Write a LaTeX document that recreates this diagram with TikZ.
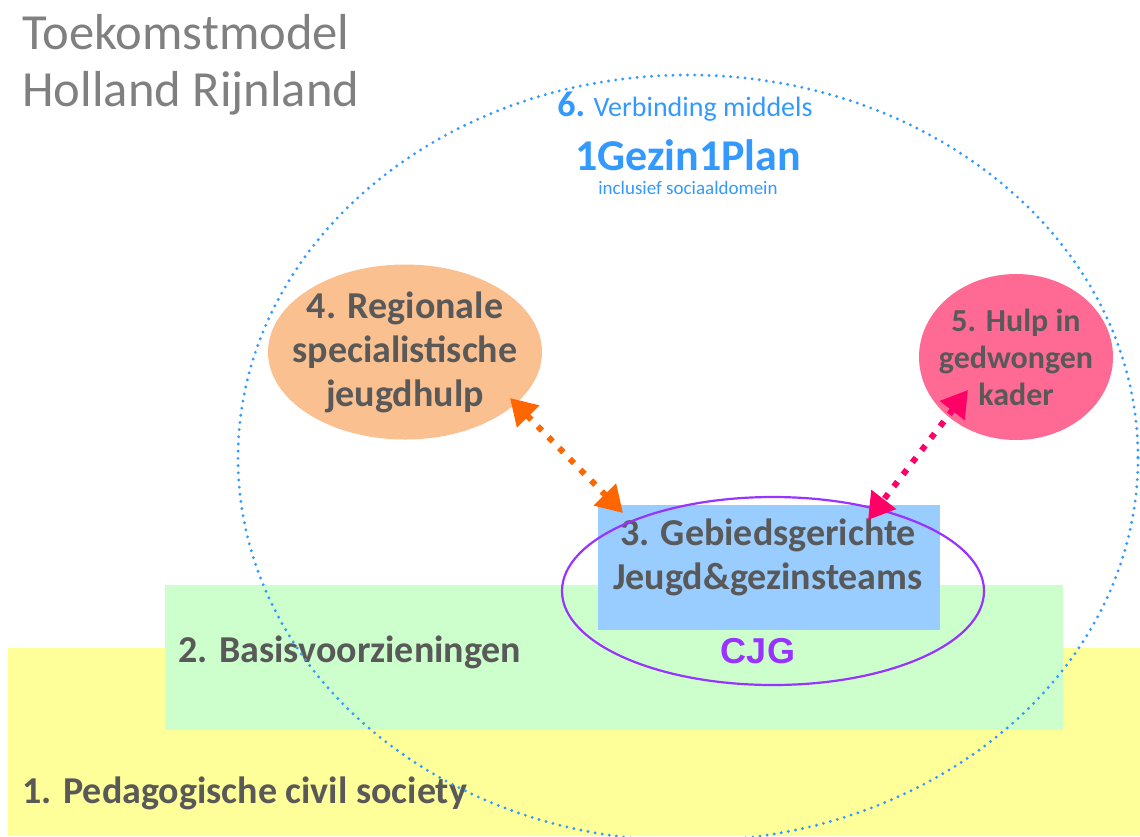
\documentclass[tikz,border=0pt]{standalone}
\usepackage{fontspec}
\setmainfont{Carlito}
\newfontfamily\cjgfont{Liberation Sans}
\usepackage{tikz}
\usetikzlibrary{arrows.meta, shapes.geometric}
\usetikzlibrary{positioning}
\usepackage{xcolor}
\definecolor{tekstgrijs}{HTML}{595959}
\definecolor{titelgrijs}{HTML}{808080}
\definecolor{geel}{HTML}{FFFF99}
\definecolor{groen}{HTML}{CCFFCC}
\definecolor{lichtblauw}{HTML}{99CCFF}
\definecolor{perzik}{HTML}{FAC090}
\definecolor{roze}{HTML}{FF6A95}
\definecolor{paars}{HTML}{9933FF}
\definecolor{stipblauw}{HTML}{3399FF}
\definecolor{oranje}{HTML}{FF6600}
\definecolor{magenta}{HTML}{FF0066}

\begin{document}
\begin{tikzpicture}[x=0.5pt, y=-0.5pt,
		labeltekst/.style={font=\bfseries\fontsize{19}{22}\selectfont, text=tekstgrijs, align=center, inner sep=0pt},
		pijl/.style={line width=3pt, dash pattern=on 3pt off 4.6pt,
			{Triangle[width=15pt,length=13pt]}-{Triangle[width=15pt,length=13pt]}}]
		 
		 \useasboundingbox (0,0) rectangle (1140,836);
		 
		 % lagen
		 \fill [geel] (8,648) rectangle (1140,836);
		 \fill [groen] (165,585) rectangle (1063,730);
		 \node [labeltekst, anchor=west] (civil) at (22,793) {1. Pedagogische civil society};
		 \node [labeltekst, anchor=west] (basis) at (178,652) {2. Basisvoorzieningen};
		 
		 % wijkteams en CJG
		 \node [fill=lichtblauw, minimum width=171pt, minimum height=62.5pt, inner sep=0pt] (gebied) at (769,567.5) {};
		 \node [labeltekst] (gebiedtekst) at (768,557) {3. Gebiedsgerichte\\Jeugd\&gezinsteams};
		 \node [ellipse, draw=paars, line width=1.1pt, minimum width=211pt, minimum height=94pt] (cjg) at (773,591) {};
		 \node [font=\cjgfont\bfseries\fontsize{18}{18}\selectfont, text=paars, inner sep=0pt] (cjgtekst) at (758,651) {CJG};
		 
		 % specialistisch en gedwongen
		 \node [ellipse, fill=perzik, minimum width=137pt, minimum height=87.5pt, labeltekst, inner xsep=-8pt] (regio) at (405,352) {4. Regionale\\specialistische\\jeugdhulp};
		 \node [ellipse, fill=roze, minimum width=97pt, minimum height=83pt, labeltekst, inner xsep=-4.5pt, font=\bfseries\fontsize{16}{18.5}\selectfont] (hulp) at (1016,357) {5. Hulp in\\gedwongen\\kader};
		 
		 % verbinding
		 \draw [stipblauw, line width=1.6pt, line cap=round, dash pattern=on 0pt off 3.6pt] (688,458) ellipse [x radius=450, y radius=383];
		 \node [text=stipblauw, font=\fontsize{14}{14}\selectfont, inner sep=0pt] (verbinding) at (685,107) {{\bfseries\fontsize{18}{18}\selectfont 6.} Verbinding middels};
		 \node [text=stipblauw, font=\bfseries\fontsize{22}{22}\selectfont, inner sep=0pt] (plan) at (688,155) {1Gezin1Plan};
		 \node [text=stipblauw, font=\fontsize{9.5}{9.5}\selectfont, inner sep=0pt] (inclusief) at (688,188) {inclusief sociaaldomein};
		 
		 % pijlen
		 \coordinate (regiopunt) at (510,398);
		 \coordinate (gebiedlinks) at (623,513);
		 \coordinate (hulppunt) at (968,390);
		 \coordinate (gebiedrechts) at (868,520);
		 \draw [pijl, oranje] (regiopunt) -- (gebiedlinks);
		 \draw [pijl, magenta] (hulppunt) -- (gebiedrechts);
		 
		 % titel
		 \node [anchor=north west, align=left, text=titelgrijs, font=\fontsize{25.3}{28.5}\selectfont, inner sep=0pt] (titel) at (22,14) {Toekomstmodel\\Holland Rijnland};
		 	\end{tikzpicture}
\end{document}
